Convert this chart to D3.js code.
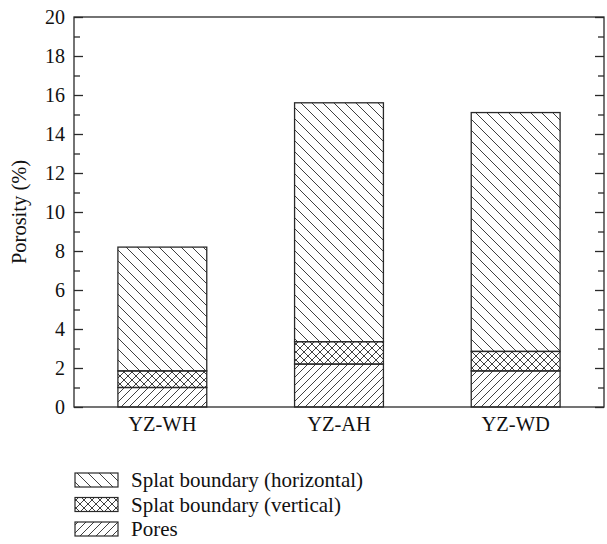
<!DOCTYPE html>
<html><head><meta charset="utf-8">
<script src="https://cdn.jsdelivr.net/npm/d3@7"></script>
<style>
body{margin:0;background:#fff}
svg text{font-family:"Liberation Serif","Times New Roman",serif;}
</style>
</head><body>
<svg id="c" width="607" height="544"></svg>
<script>
const categories = ["YZ-WH", "YZ-AH", "YZ-WD"];
const pores = [1.0, 2.2, 1.85];
const vertical = [0.85, 1.15, 1.0];
const horizontal = [6.35, 12.25, 12.25];
const seriesNames = ["Splat boundary (horizontal)", "Splat boundary (vertical)", "Pores"];
const yTicks = [0, 2, 4, 6, 8, 10, 12, 14, 16, 18, 20];
const yLabel = "Porosity (%)";

const svg = d3.select("#c");
const font = "Liberation Serif, Times New Roman, serif";
const ink = "#2a2a2a";
const m = {l: 74, r: 604, t: 17, b: 407};

const defs = svg.append("defs");
function hatch(id, size, dirs) {
  const p = defs.append("pattern").attr("id", id).attr("patternUnits", "userSpaceOnUse")
    .attr("width", size).attr("height", size);
  dirs.forEach(d => {
    if (d === "back") {
      p.append("path").attr("d", `M${-size/2},${size/2} L${size/2},${size*1.5} M0,0 L${size},${size} M${size/2},${-size/2} L${size*1.5},${size/2}`);
    } else {
      p.append("path").attr("d", `M${-size/2},${size/2} L${size/2},${-size/2} M0,${size} L${size},0 M${size/2},${size*1.5} L${size*1.5},${size/2}`);
    }
  });
  p.selectAll("path").attr("stroke", ink).attr("stroke-width", 0.9).attr("fill", "none");
}
hatch("pH", 11, ["back"]);
hatch("pV", 8, ["back", "fwd"]);
hatch("pP", 8, ["fwd"]);
const fills = ["url(#pH)", "url(#pV)", "url(#pP)"];

const x = d3.scaleBand().domain(categories).range([m.l, m.r]).paddingInner(0.497).paddingOuter(0.2485);
const y = d3.scaleLinear().domain([0, 20]).range([m.b, m.t]);

const rows = categories.map((c, i) => ({cat: c, pores: pores[i], vertical: vertical[i], horizontal: horizontal[i]}));
const stack = d3.stack().keys(["pores", "vertical", "horizontal"])(rows);
const keyFill = {pores: "url(#pP)", vertical: "url(#pV)", horizontal: "url(#pH)"};

stack.forEach(layer => {
  svg.append("g").selectAll("rect").data(layer).join("rect")
    .attr("x", d => x(d.data.cat))
    .attr("width", x.bandwidth())
    .attr("y", d => y(d[1]))
    .attr("height", d => y(d[0]) - y(d[1]))
    .attr("fill", keyFill[layer.key])
    .attr("stroke", ink).attr("stroke-width", 1.3);
});

svg.append("rect").attr("x", m.l).attr("y", m.t).attr("width", m.r - m.l).attr("height", m.b - m.t)
  .attr("fill", "none").attr("stroke", ink).attr("stroke-width", 1.3);

const minor = d3.range(1, 20, 2);
const gl = svg.append("g").attr("transform", `translate(${m.l},0)`)
  .call(d3.axisLeft(y).tickValues(yTicks).tickSize(-9).tickPadding(9).tickFormat(d3.format("d")));
gl.select(".domain").remove();
gl.selectAll("line").attr("stroke", ink).attr("stroke-width", 1.3);
gl.selectAll("text").attr("font-family", font).attr("font-size", 20).attr("fill", "#111");
const glm = svg.append("g").attr("transform", `translate(${m.l},0)`)
  .call(d3.axisLeft(y).tickValues(minor).tickSize(-6).tickFormat(""));
glm.select(".domain").remove();
glm.selectAll("line").attr("stroke", ink).attr("stroke-width", 1.3);

const gr = svg.append("g").attr("transform", `translate(${m.r},0)`)
  .call(d3.axisRight(y).tickValues(yTicks).tickSize(-9).tickFormat(""));
gr.select(".domain").remove();
gr.selectAll("line").attr("stroke", ink).attr("stroke-width", 1.3);
const grm = svg.append("g").attr("transform", `translate(${m.r},0)`)
  .call(d3.axisRight(y).tickValues(minor).tickSize(-6).tickFormat(""));
grm.select(".domain").remove();
grm.selectAll("line").attr("stroke", ink).attr("stroke-width", 1.3);

const gb = svg.append("g").attr("transform", `translate(0,${m.b})`)
  .call(d3.axisBottom(x).tickSize(0).tickPadding(9));
gb.select(".domain").remove();
gb.selectAll("text").attr("font-family", font).attr("font-size", 20.5).attr("fill", "#111");

svg.append("text").attr("transform", `translate(26,${(m.t + m.b) / 2}) rotate(-90)`)
  .attr("text-anchor", "middle").attr("font-family", font).attr("font-size", 20.5).attr("fill", "#111")
  .text(yLabel);

const lg = svg.append("g");
seriesNames.forEach((s, i) => {
  const yy = 473 + i * 24.5;
  lg.append("rect").attr("x", 75).attr("y", yy).attr("width", 43).attr("height", 14)
    .attr("fill", fills[i]).attr("stroke", ink).attr("stroke-width", 1.2);
  lg.append("text").attr("x", 131).attr("y", yy + 14).attr("font-family", font).attr("font-size", 21)
    .attr("fill", "#111").text(s);
});
</script>
</body></html>
